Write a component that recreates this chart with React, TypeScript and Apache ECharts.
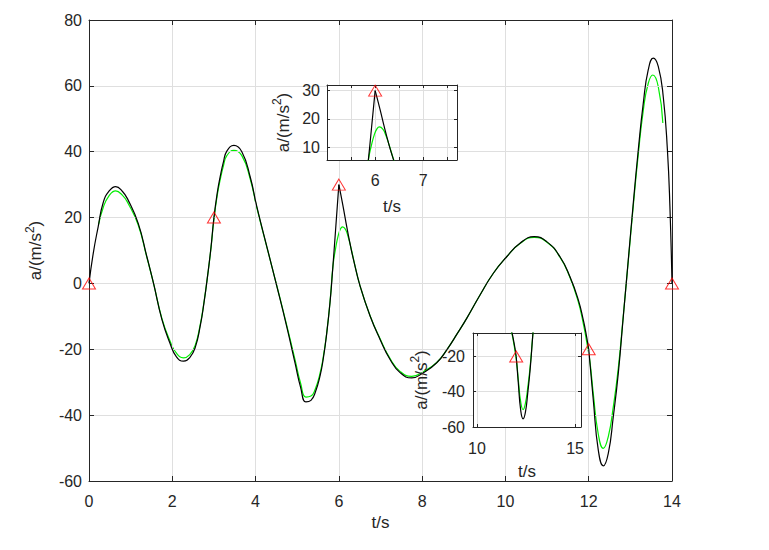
import React, { useEffect, useRef } from 'react';
import * as echarts from 'echarts';

const FONT = '"Liberation Sans", Arial, Helvetica, sans-serif';
const AXIS_COLOR = '#262626';
const GRID_COLOR = '#dfdfdf';

// exact response (black), piecewise: 0-6, 6-12, 12-14
const blackT1 = [0, 0.1, 0.22, 0.34, 0.48, 0.64, 0.8, 0.94, 1.18, 1.39, 1.55, 1.75, 1.94, 2.1, 2.27, 2.42, 2.55, 2.67, 2.76, 2.85, 2.93, 3.0, 3.08, 3.15, 3.23, 3.31, 3.48, 3.67, 3.87, 4.03, 4.27, 4.51, 4.75, 4.95, 5.08, 5.21, 5.33, 5.43, 5.55, 5.63, 5.71, 5.79, 5.85, 5.92, 6.0];
const blackA1 = [0, 9, 17.2, 24.5, 28, 29.4, 28, 25.3, 18.3, 8.1, 0, -10.9, -18, -22.3, -23.6, -22.5, -19.5, -13, -6, 2.5, 11, 20, 27.5, 32.4, 37, 40.2, 41.9, 40, 32.4, 23.3, 11.2, -0.8, -13.2, -24.3, -31.5, -36, -35.5, -33.2, -28, -22.5, -15, -5.5, 4, 16, 30];
const blackT2 = [6.0, 6.1, 6.19, 6.27, 6.35, 6.51, 6.75, 6.99, 7.23, 7.47, 7.75, 8.03, 8.35, 8.6, 8.85, 9.07, 9.39, 9.71, 10.03, 10.35, 10.69, 10.99, 11.31, 11.55, 11.75, 11.87, 11.95, 12.0];
const blackA2 = [30, 23.5, 17.2, 12, 7.3, -0.8, -9.9, -17, -23.1, -27.1, -28.7, -27.1, -24.1, -20, -15.1, -10.6, -3.5, 3.1, 8.1, 12.2, 14.2, 12.7, 8.1, 2.0, -5, -11.1, -16.2, -20];
const blackT3 = [12.0, 12.11, 12.23, 12.35, 12.47, 12.59, 12.71, 12.83, 12.95, 13.07, 13.19, 13.31, 13.43, 13.55, 13.67, 13.79, 13.89, 13.95, 14.0];
const blackA3 = [-20, -35.4, -50.6, -55.4, -51.6, -40.5, -27.3, -10.1, 7.1, 24.3, 40.5, 54.7, 64.9, 68.4, 65.9, 56.7, 40.5, 23.3, 0];

// approximation (green)
const greenT = [0.23, 0.34, 0.48, 0.64, 0.8, 0.94, 1.18, 1.39, 1.55, 1.75, 1.94, 2.1, 2.27, 2.42, 2.55, 2.67, 2.76, 2.85, 2.93, 3.0, 3.08, 3.15, 3.23, 3.31, 3.48, 3.67, 3.87, 4.03, 4.27, 4.51, 4.75, 4.95, 5.08, 5.21, 5.33, 5.43, 5.55, 5.63, 5.71, 5.79, 5.86, 5.92, 5.98, 6.04, 6.09, 6.16, 6.22, 6.3, 6.38, 6.51, 6.75, 6.99, 7.23, 7.47, 7.75, 8.03, 8.35, 8.6, 8.85, 9.07, 9.39, 9.71, 10.03, 10.35, 10.69, 10.99, 11.31, 11.55, 11.75, 11.87, 11.95, 12.03, 12.11, 12.23, 12.35, 12.47, 12.59, 12.71, 12.83, 12.95, 13.07, 13.19, 13.31, 13.43, 13.54, 13.67, 13.78];
const greenA = [17.9, 23, 26.6, 28.1, 26.8, 24.3, 17.8, 7.9, 0, -10.6, -17.3, -21.2, -22.6, -21.6, -18.8, -12.6, -5.8, 2.5, 10.8, 19.5, 26.8, 31.5, 35.8, 38.8, 40.4, 38.8, 31.8, 23, 11.1, -0.7, -12.8, -23.3, -30.2, -34.5, -34.2, -32.2, -27.2, -22, -14.8, -5.3, 5.5, 10.5, 14.3, 16.6, 17.2, 16.4, 14.3, 10.3, 5.8, -0.8, -9.8, -16.8, -22.8, -26.7, -28.2, -26.8, -24, -20, -15.1, -10.6, -3.5, 3.1, 8.1, 12.1, 14.0, 12.6, 8.0, 1.8, -5.6, -12.2, -17.6, -23.8, -33.5, -45.8, -50.1, -46.5, -37.5, -25.8, -9.8, 6.8, 23.5, 39.2, 52.5, 60.8, 63.3, 59.8, 48.7];

// red triangle markers
const markT = [0, 3, 6, 12, 14];
const markA = [0, 20, 30, -20, 0];

// tick values
const mainXTicks = [0, 2, 4, 6, 8, 10, 12, 14];
const mainYTicks = [-60, -40, -20, 0, 20, 40, 60, 80];
const inset1XTicks = [5.5, 6, 6.5, 7, 7.5];
const inset1XLabels = [6, 7];
const inset1YTicks = [10, 20, 30];
const inset2XTicks = [10, 15];
const inset2YTicks = [-60, -40, -20];

const zip = (t: number[], a: number[]) => t.map((v, i) => [v, a[i]]);
const near = (v: number, list: number[]) => list.some((x) => Math.abs(v - x) < 1e-6);

function axisBase(gridIndex: number, min: number, max: number, ticks: number[], tickLen: number, z: number, position: string) {
  return {
    type: 'value',
    gridIndex,
    min,
    max,
    z,
    position,
    axisLine: { show: true, onZero: false, lineStyle: { color: AXIS_COLOR, width: 1 } },
    axisTick: { show: true, inside: true, length: tickLen, customValues: ticks, lineStyle: { color: AXIS_COLOR, width: 1 } },
    splitLine: { show: false },
    axisLabel: { show: false },
  } as any;
}

const labelStyle = { fontFamily: FONT, fontSize: 16, color: AXIS_COLOR };
const nameStyleX = { fontFamily: FONT, fontSize: 17, color: AXIS_COLOR };
const nameStyleY = {
  fontFamily: FONT,
  fontSize: 17,
  color: AXIS_COLOR,
  lineHeight: 24,
  rich: {
    sup: { fontFamily: FONT, fontSize: 12, color: AXIS_COLOR, verticalAlign: 'top', lineHeight: 24 },
  },
};
const yName = 'a/(m/s{sup|2})';

function primary(dim: 'x' | 'y', gridIndex: number, min: number, max: number, ticks: number[], labels: number[], tickLen: number, z: number, nameGap: number, margin: number) {
  const a = axisBase(gridIndex, min, max, ticks, tickLen, z, dim === 'x' ? 'bottom' : 'left');
  a.axisLabel = {
    show: true,
    margin,
    ...labelStyle,
    customValues: labels,
    formatter: (v: number) => (near(v, labels) ? String(v) : ''),
  };
  a.splitLine = { show: true, lineStyle: { color: GRID_COLOR, width: 1 } };
  a.nameLocation = 'middle';
  a.nameGap = nameGap;
  if (dim === 'x') {
    a.name = 't/s';
    a.nameTextStyle = nameStyleX;
  } else {
    a.name = yName;
    a.nameRotate = 90;
    a.nameTextStyle = nameStyleY;
  }
  return a;
}

function seriesFor(xi: number, yi: number, z: number, clip: boolean) {
  const lineCommon = { type: 'line', xAxisIndex: xi, yAxisIndex: yi, symbol: 'none', smooth: 0.5, clip, silent: true };
  return [
    { ...lineCommon, data: zip(greenT, greenA), lineStyle: { color: '#00ee00', width: 1.2 }, z },
    { ...lineCommon, data: zip(blackT1, blackA1), lineStyle: { color: '#000000', width: 1.2 }, z: z + 1 },
    { ...lineCommon, data: zip(blackT2, blackA2), lineStyle: { color: '#000000', width: 1.2 }, z: z + 1 },
    { ...lineCommon, data: zip(blackT3, blackA3), lineStyle: { color: '#000000', width: 1.2 }, z: z + 1 },
    {
      type: 'scatter',
      xAxisIndex: xi,
      yAxisIndex: yi,
      data: zip(markT, markA),
      symbol: 'triangle',
      symbolSize: [13, 11],
      clip,
      silent: true,
      itemStyle: { color: 'rgba(0,0,0,0)', borderColor: '#ff0000', borderWidth: 1 },
      z: z + 2,
    },
  ];
}

export default function App() {
  const ref = useRef<HTMLDivElement>(null);
  useEffect(() => {
    const chart = echarts.init(ref.current!, null, { renderer: 'svg' });
    const option: any = {
      animation: false,
      backgroundColor: '#ffffff',
      grid: [
        { left: 89, right: 97, top: 20, bottom: 69, containLabel: false },
        { left: 327, top: 85, width: 130, height: 75, show: true, backgroundColor: '#ffffff', borderWidth: 0, z: 10 },
        { left: 473, top: 333, width: 108, height: 94, show: true, backgroundColor: '#ffffff', borderWidth: 0, z: 10 },
      ],
      xAxis: [
        primary('x', 0, 0, 14, mainXTicks, mainXTicks, 5, 3, 30, 12),
        axisBase(0, 0, 14, mainXTicks, 5, 3, 'top'),
        primary('x', 1, 5, 7.7, inset1XTicks, inset1XLabels, 3, 12, 38, 12),
        axisBase(1, 5, 7.7, inset1XTicks, 3, 12, 'top'),
        primary('x', 2, 9.8, 15.3, inset2XTicks, inset2XTicks, 3, 12, 36, 13),
        axisBase(2, 9.8, 15.3, inset2XTicks, 3, 12, 'top'),
      ],
      yAxis: [
        primary('y', 0, -60, 80, mainYTicks, mainYTicks, 5, 3, 28, 7),
        axisBase(0, -60, 80, mainYTicks, 5, 3, 'right'),
        primary('y', 1, 5.5, 32, inset1YTicks, inset1YTicks, 3, 12, 32, 7),
        axisBase(1, 5.5, 32, inset1YTicks, 3, 12, 'right'),
        primary('y', 2, -60, -6.7, inset2YTicks, inset2YTicks, 3, 12, 40, 8),
        axisBase(2, -60, -6.7, inset2YTicks, 3, 12, 'right'),
      ],
      series: [
        ...seriesFor(0, 0, 2, false),
        ...seriesFor(2, 2, 14, true),
        ...seriesFor(4, 4, 14, true),
      ],
    };
    chart.setOption(option);
    return () => chart.dispose();
  }, []);
  return <div ref={ref} style={{ position: 'fixed', left: 0, top: 0, width: 769, height: 550, background: '#fff' }} />;
}
